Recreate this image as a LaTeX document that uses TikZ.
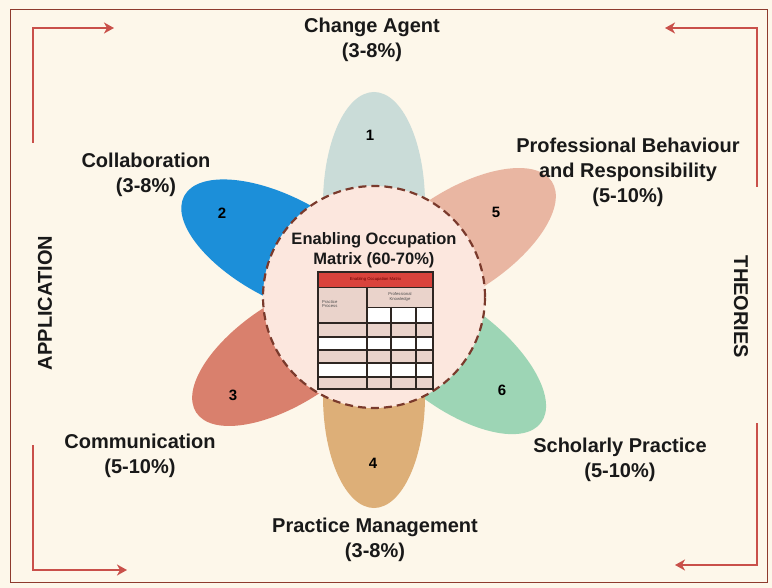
\documentclass[tikz,border=0pt]{standalone}
\usepackage{fontspec}
\setmainfont{Liberation Sans}
\usetikzlibrary{shapes.geometric,arrows.meta,calc}
\definecolor{bg}{HTML}{FDF7EA}
\definecolor{frame}{HTML}{8E3B2E}
\definecolor{arrowred}{HTML}{C9504A}
\definecolor{pone}{HTML}{CADCD8}
\definecolor{ptwo}{HTML}{1C8FD9}
\definecolor{pthree}{HTML}{D9806D}
\definecolor{pfour}{HTML}{DDAF78}
\definecolor{pfive}{HTML}{E9B6A2}
\definecolor{psix}{HTML}{9DD5B5}
\definecolor{hub}{HTML}{FCE7DE}
\definecolor{hubline}{HTML}{7A3A2C}
\definecolor{tabred}{HTML}{D9433C}
\definecolor{tabpink}{HTML}{EAD3CB}
\definecolor{tabline}{HTML}{2E2622}
\tikzset{
  petal/.style={ellipse, minimum width=224pt, minimum height=102pt, inner sep=0pt, draw=none},
  num/.style={font=\bfseries\fontsize{15}{15}\selectfont, text=black},
  lab/.style={font=\bfseries\fontsize{20}{25}\selectfont, align=center, text=black!90},
  side/.style={font=\bfseries\fontsize{20}{20}\selectfont, text=black!90},
  arr/.style={draw=arrowred, line width=2.6pt, -{Stealth[length=10pt,width=11pt,inset=3pt]}},
  tabtxt/.style={font=\fontsize{4.2}{4.6}\selectfont, text=black!70, inner sep=0pt}
}
\begin{document}
\begin{tikzpicture}[x=1pt,y=-1pt]
\useasboundingbox (0,0) rectangle (772,588);
\fill[bg] (0,0) rectangle (772,588);
\draw[frame, line width=1pt] (10,10) rectangle (767,582);

% corner arrows
\coordinate (tls) at (33,143); \coordinate (tle) at (114,28);
\coordinate (trs) at (757,187); \coordinate (tre) at (665,28);
\coordinate (bls) at (33,445); \coordinate (ble) at (127,570);
\coordinate (brs) at (757,423); \coordinate (bre) at (675,565);
\draw[arr] (tls) |- (tle);
\draw[arr] (trs) |- (tre);
\draw[arr] (bls) |- (ble);
\draw[arr] (brs) |- (bre);

% petals
\coordinate (c) at (374,297);
\node[petal, fill=pone, rotate=90]    (p1) at ($(c)+(90:93pt)$) {};
\node[petal, fill=pfive, rotate=33]   (p5) at ($(c)+(33:100pt)$) {};
\node[petal, fill=psix, rotate=-37]   (p6) at ($(c)+(-37:97pt)$) {};
\node[petal, fill=pfour, rotate=-90]  (p4) at ($(c)+(-90:99pt)$) {};
\node[petal, fill=pthree, rotate=213] (p3) at ($(c)+(213:100pt)$) {};
\node[petal, fill=ptwo, rotate=152]   (p2) at ($(c)+(152:103pt)$) {};

% hub
\node[circle, minimum size=222pt, inner sep=0pt, fill=hub, draw=hubline, line width=2.2pt, dash pattern=on 8pt off 5pt] (hub) at (c) {};

% numbers
\node[num] (n1) at (370,135) {1};
\node[num] (n2) at (222,213) {2};
\node[num] (n3) at (233,395) {3};
\node[num] (n4) at (373,463) {4};
\node[num] (n5) at (496,212) {5};
\node[num] (n6) at (502,390) {6};

% hub title
\node[font=\bfseries\fontsize{16.5}{20}\selectfont, align=center, text=black!90] (title) at (374,250) {Enabling Occupation\\Matrix (60-70\%)};

% table
\fill[tabred] (318,272) rectangle (433,287);
\fill[tabpink] (318,287) rectangle (433,307);
\fill[tabpink] (318,307) rectangle (367,323);
\fill[white] (367,307) rectangle (433,323);
\fill[tabpink] (318,323) rectangle (433,337);
\fill[white] (318,337) rectangle (433,350);
\fill[tabpink] (318,350) rectangle (433,363);
\fill[white] (318,363) rectangle (433,377);
\fill[tabpink] (318,377) rectangle (433,389);
\draw[tabline, line width=1.1pt] (318,272) rectangle (433,389);
\draw[tabline, line width=0.6pt] (318,287) -- (433,287);
\draw[tabline, line width=0.6pt] (367,307) -- (433,307);
\foreach \yy in {323,337,350,363,377} {\draw[tabline, line width=1.1pt] (318,\yy) -- (433,\yy);}
\draw[tabline, line width=1.1pt] (367,287) -- (367,389);
\draw[tabline, line width=1.1pt] (391,307) -- (391,389);
\draw[tabline, line width=1.1pt] (416,307) -- (416,389);
\node[tabtxt, text=red!40!black] (th) at (375.5,279.5) {Enabling Occupation Matrix};
\node[tabtxt, align=left, anchor=west] (tp) at (322,304) {Practice\\Process};
\node[tabtxt, align=center] (tk) at (400,297) {Professional\\Knowledge};

% outer labels
\node[lab] (l1) at (372,40) {Change Agent\\(3-8\%)};
\node[lab] (l2) at (146,175) {Collaboration\\(3-8\%)};
\node[lab] (l5) at (628,172) {Professional Behaviour\\and Responsibility\\(5-10\%)};
\node[lab] (l3) at (140,456) {Communication\\(5-10\%)};
\node[lab] (l6) at (620,460) {Scholarly Practice\\(5-10\%)};
\node[lab] (l4) at (375,540) {Practice Management\\(3-8\%)};

\node[side, rotate=90] (app) at (45,303) {APPLICATION};
\node[side, rotate=-90] (theo) at (741,307) {THEORIES};
\end{tikzpicture}
\end{document}
